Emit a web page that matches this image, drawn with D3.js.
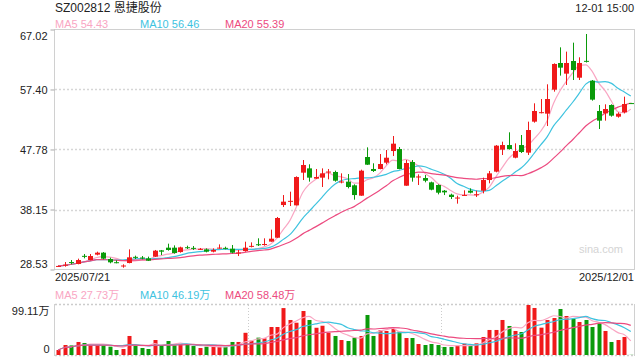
<!DOCTYPE html>
<html><head><meta charset="utf-8">
<script src="https://cdn.jsdelivr.net/npm/d3@7/dist/d3.min.js"></script>
<style>
body{margin:0;background:#fff;}
svg text{font-family:"Liberation Sans",Arial,"Noto Sans CJK SC",sans-serif;}
</style>
</head><body>
<svg id="chart" width="640" height="360"></svg>
<script>
const dates = [
"2025/07/21","2025/07/22","2025/07/23","2025/07/24","2025/07/25","2025/07/28","2025/07/29","2025/07/30","2025/07/31",
"2025/08/01","2025/08/04","2025/08/05","2025/08/06","2025/08/07","2025/08/08","2025/08/11","2025/08/12","2025/08/13","2025/08/14","2025/08/15","2025/08/18","2025/08/19","2025/08/20","2025/08/21","2025/08/22","2025/08/25","2025/08/26","2025/08/27","2025/08/28","2025/08/29",
"2025/09/01","2025/09/02","2025/09/03","2025/09/04","2025/09/05","2025/09/08","2025/09/09","2025/09/10","2025/09/11","2025/09/12","2025/09/15","2025/09/16","2025/09/17","2025/09/18","2025/09/19","2025/09/22","2025/09/23","2025/09/24","2025/09/25","2025/09/26","2025/09/29","2025/09/30",
"2025/10/09","2025/10/10","2025/10/13","2025/10/14","2025/10/15","2025/10/16","2025/10/17","2025/10/20","2025/10/21","2025/10/22","2025/10/23","2025/10/24","2025/10/27","2025/10/28","2025/10/29","2025/10/30","2025/10/31",
"2025/11/03","2025/11/04","2025/11/05","2025/11/06","2025/11/07","2025/11/10","2025/11/11","2025/11/12","2025/11/13","2025/11/14","2025/11/17","2025/11/18","2025/11/19","2025/11/20","2025/11/21","2025/11/24","2025/11/25","2025/11/26","2025/11/27","2025/11/28",
"2025/12/01"];

const open = [29.05,29.19,29.72,29.41,30.72,30.05,30.91,31.23,30.21,29.70,29.14,29.57,30.56,30.45,30.32,30.59,31.60,32.03,32.03,31.33,32.10,32.00,31.80,31.76,31.39,32.00,32.00,31.87,31.20,31.49,
32.27,32.58,32.58,33.00,33.63,38.87,39.48,38.82,44.06,44.75,43.10,43.26,44.19,44.17,42.60,42.62,42.03,40.37,46.57,44.65,44.65,45.66,47.53,47.85,41.97,45.77,43.40,43.20,42.51,42.08,
41.17,40.53,40.03,40.45,41.17,40.56,41.17,42.88,44.22,47.75,48.49,46.46,48.49,47.27,52.24,53.72,53.52,57.37,61.65,59.94,61.97,59.29,61.99,58.81,53.95,53.57,54.91,53.04,53.74,55.22];
const high = [29.15,29.73,30.05,30.27,31.01,31.01,31.39,31.33,30.42,30.00,29.36,31.76,30.75,30.69,30.59,31.66,31.66,32.67,32.40,32.19,32.35,32.30,31.98,31.92,31.92,32.56,32.19,32.46,31.66,32.99,
32.88,33.53,33.53,34.92,36.95,40.47,41.01,43.47,46.09,45.40,44.65,44.75,44.65,44.38,43.95,43.84,42.19,44.54,48.12,45.56,47.05,47.69,49.94,48.17,46.09,46.09,43.79,43.68,42.62,42.19,
41.28,40.69,40.37,41.23,41.54,41.17,43.26,44.33,48.49,49.03,50.53,48.76,50.10,52.24,55.18,55.87,58.23,61.59,64.16,63.47,64.91,62.56,66.30,58.92,54.91,55.02,55.02,53.74,56.25,55.25];
const low = [28.98,28.98,29.36,29.36,30.32,30.00,30.80,30.16,29.52,29.52,28.82,29.52,30.21,30.16,29.89,30.53,30.85,31.55,31.07,31.23,31.82,31.66,31.66,31.28,31.28,31.87,31.76,31.12,30.69,31.39,
32.08,32.30,32.35,32.98,33.60,38.55,38.71,38.80,42.88,42.62,43.05,41.76,42.99,42.62,42.35,41.54,39.73,40.35,45.30,44.17,44.60,45.39,46.73,44.60,41.95,42.62,42.08,42.51,41.23,40.58,
40.47,39.83,39.09,40.37,40.74,40.16,40.74,42.35,44.11,46.89,47.75,46.36,47.21,46.89,52.08,53.57,51.54,57.05,59.62,58.12,58.92,58.92,61.73,55.61,51.06,52.40,53.04,52.88,53.57,55.15];
const close = [29.10,29.30,29.66,30.05,30.66,30.69,31.23,30.27,29.68,29.66,29.17,30.48,30.52,30.42,29.94,31.55,31.39,31.66,31.17,32.08,32.06,31.96,31.84,31.39,31.66,32.04,31.96,31.23,31.25,32.03,
32.32,32.54,32.62,33.47,36.79,39.41,39.54,43.36,45.29,43.26,43.36,43.95,44.24,42.77,42.64,41.76,40.47,44.38,45.34,44.33,45.45,46.46,48.71,44.65,45.61,43.26,43.45,42.77,41.33,40.85,
40.90,40.16,40.07,40.49,40.85,40.60,42.88,43.95,48.39,48.49,47.85,47.53,47.37,50.90,53.95,53.76,55.87,61.49,60.90,61.65,60.52,61.65,61.95,55.77,52.40,54.27,53.20,53.52,55.07,55.18];
// volume in 万
const volume = [9.9,19.8,19.0,25.8,23.8,19.8,19.8,19.8,16.5,9.9,11.9,37.7,19.8,13.9,11.9,29.7,19.2,27.7,19.2,21.8,20.5,17.8,13.9,16.5,16.5,16.5,16.5,25.8,25.8,44.0,
28.4,34.4,33.0,55.5,55.5,93.0,69.4,64.0,87.2,69.4,54.0,58.0,44.0,37.7,29.7,27.7,34.4,37.7,79.3,37.7,49.0,47.6,51.5,46.3,33.7,33.7,21.8,19.8,21.8,19.8,
15.9,15.9,18.5,22.5,19.8,23.1,35.7,49.6,49.6,69.4,57.5,47.6,45.6,99.11,93.2,54.2,69.4,73.3,91.2,77.3,71.4,65.4,69.4,55.5,62.8,47.6,25.8,29.7,35.7,0.3];

const priceTicks = [67.02, 57.40, 47.78, 38.15, 28.53];
const volTicks = [99.11, 0];
const title = "SZ002812 恩捷股份";
const timeLabel = "12-01 15:00";
const maPeriods = [5, 10, 20];
const maPriceLegend = ["MA5 54.43", "MA10 56.46", "MA20 55.39"];
const maVolLegend = ["MA5 27.73万", "MA10 46.19万", "MA20 58.48万"];
const maColors = ["#f9a6c3", "#3ec3df", "#ec4b80"];
const upColor = "#f0191a", downColor = "#0a9a0a";

const svg = d3.select("#chart");
const L = 55, R = 634;
const x = d3.scaleBand().domain(dates).range([L, R]);
const cx = d => Math.round(x(d) + x.bandwidth() / 2);
const y = d3.scaleLinear().domain([28.53, 67.02]).range([269.5, 29.5]);
const yv = d3.scaleLinear().domain([0, 99.11]).range([355, 305]);

const rows = dates.map((d, i) => ({d, o: open[i], h: high[i], l: low[i], c: close[i], v: volume[i]}));
function ma(arr, n) {
  return arr.map((_, i) => d3.mean(arr.slice(Math.max(0, i - n + 1), i + 1)));
}

// header
svg.append("text").attr("x", 55).attr("y", 12).attr("font-size", 12).attr("fill", "#222").text(title);
svg.append("text").attr("x", 634).attr("y", 12).attr("font-size", 11).attr("fill", "#222").attr("text-anchor", "end").text(timeLabel);
const legX = [55, 140, 225];
maPriceLegend.forEach((t, i) => svg.append("text").attr("x", legX[i]).attr("y", 28).attr("font-size", 11).attr("fill", maColors[i]).text(t));
maVolLegend.forEach((t, i) => svg.append("text").attr("x", legX[i]).attr("y", 299).attr("font-size", 11).attr("fill", maColors[i]).text(t));

// price grid
svg.append("g").selectAll("line").data(priceTicks.slice(1, -1)).join("line")
  .attr("x1", L).attr("x2", R).attr("y1", d => Math.round(y(d)) + 0.5).attr("y2", d => Math.round(y(d)) + 0.5)
  .attr("stroke", "#d6d6d6").attr("stroke-width", 1.5).attr("stroke-dasharray", "2,2");
svg.append("rect").attr("x", L - 0.5).attr("y", 29.5).attr("width", R - L + 1).attr("height", 240)
  .attr("fill", "none").attr("stroke", "#d0d0d0");

// price axis
const ay = svg.append("g").attr("transform", `translate(${L - 0.5},0)`)
  .call(d3.axisLeft(y).tickValues(priceTicks).tickFormat(d3.format(".2f")).tickSize(4).tickPadding(3));
ay.select(".domain").remove();
ay.selectAll(".tick line").attr("stroke", "#aaa");
ay.selectAll(".tick text").attr("font-size", 11).attr("fill", "#222").attr("font-family", null)
  .attr("dy", d => d === 67.02 ? "0.9em" : d === 28.53 ? "-0.15em" : "0.32em");

// x labels
svg.append("text").attr("x", 55).attr("y", 281).attr("font-size", 11).attr("fill", "#222").text(dates[0]);
svg.append("text").attr("x", 634).attr("y", 281).attr("font-size", 11).attr("fill", "#222").attr("text-anchor", "end").text(dates[dates.length - 1]);

// watermark
svg.append("text").attr("x", 623).attr("y", 253).attr("font-size", 11).attr("fill", "#d4d4d4").attr("text-anchor", "end").text("sina.com");

// MA lines price
maPeriods.forEach((p, i) => {
  const m = ma(close, p);
  svg.append("path").datum(m)
    .attr("d", d3.line().x((v, j) => x(dates[j]) + x.bandwidth() / 2).y(v => y(v)).curve(d3.curveMonotoneX))
    .attr("fill", "none").attr("stroke", maColors[i]).attr("stroke-width", 1.2);
});

// candles
const cg = svg.append("g");
cg.selectAll("line").data(rows).join("line")
  .attr("x1", r => cx(r.d) + 0.5).attr("x2", r => cx(r.d) + 0.5)
  .attr("y1", r => y(r.h)).attr("y2", r => y(r.l))
  .attr("stroke", r => r.c >= r.o ? upColor : downColor);
cg.selectAll("rect").data(rows).join("rect")
  .attr("x", r => cx(r.d) - 2).attr("width", 5)
  .attr("y", r => y(Math.max(r.o, r.c)))
  .attr("height", r => Math.max(1, Math.abs(y(r.o) - y(r.c))))
  .attr("fill", r => r.c >= r.o ? upColor : downColor);

// volume frame
const vg = svg.append("g");
vg.append("line").attr("x1", L).attr("x2", R).attr("y1", 304.5).attr("y2", 304.5).attr("stroke", "#ccc").attr("stroke-dasharray", "2,2").attr("stroke-width", 1.5);
vg.append("line").attr("x1", L).attr("x2", R).attr("y1", 355.5).attr("y2", 355.5).attr("stroke", "#ccc").attr("stroke-dasharray", "2,2").attr("stroke-width", 1.5);
vg.append("line").attr("x1", L - 0.5).attr("x2", L - 0.5).attr("y1", 304).attr("y2", 356).attr("stroke", "#d0d0d0");
vg.append("line").attr("x1", R + 0.5).attr("x2", R + 0.5).attr("y1", 304).attr("y2", 356).attr("stroke", "#d0d0d0");
[dates[30], dates[60]].forEach(d => {
  vg.append("line").attr("x1", Math.round(x(d)) + 0.5).attr("x2", Math.round(x(d)) + 0.5).attr("y1", 305).attr("y2", 355)
    .attr("stroke", "#ccc").attr("stroke-dasharray", "1,2");
});
const av = svg.append("g").attr("transform", `translate(${L - 0.5},0)`)
  .call(d3.axisLeft(yv).tickValues(volTicks).tickFormat(d => d === 0 ? "0" : d3.format(".2f")(d) + "万").tickSize(0).tickPadding(5));
av.select(".domain").remove();
av.selectAll(".tick text").attr("font-size", 11).attr("fill", "#222").attr("font-family", null)
  .attr("dy", d => d === 0 ? "-0.2em" : "0.9em");

vg.selectAll("rect.v").data(rows).join("rect").attr("class", "v")
  .attr("x", r => cx(r.d) - 1.5).attr("width", 4)
  .attr("y", r => yv(r.v)).attr("height", r => yv(0) - yv(r.v))
  .attr("fill", r => r.c >= r.o ? upColor : downColor);

maPeriods.forEach((p, i) => {
  const m = ma(volume, p);
  svg.append("path").datum(m)
    .attr("d", d3.line().x((v, j) => x(dates[j]) + x.bandwidth() / 2).y(v => yv(v)).curve(d3.curveMonotoneX))
    .attr("fill", "none").attr("stroke", maColors[i]).attr("stroke-width", 1.2);
});
</script>
</body></html>
